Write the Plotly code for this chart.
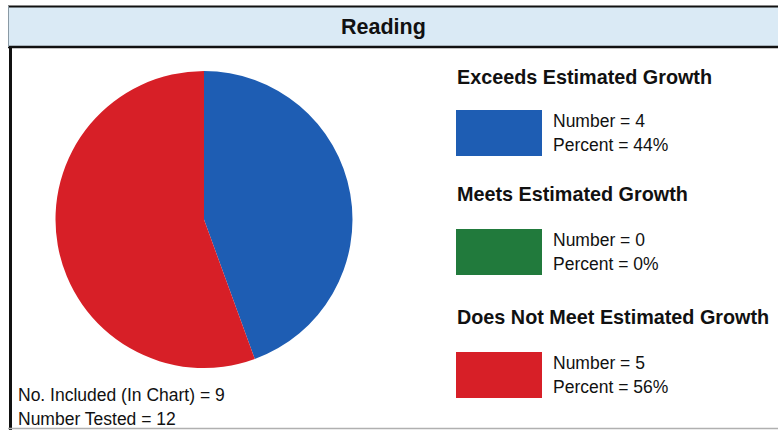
import plotly.graph_objects as go

W, H = 778, 430

# ---- data ----
title_text = "Reading"
categories = ["Exceeds Estimated Growth", "Meets Estimated Growth", "Does Not Meet Estimated Growth"]
counts = [4, 0, 5]
percents = [44, 0, 56]
colors = ["#1e5db3", "#217a3c", "#d71f27"]
n_included = 9
n_tested = 12

FONT = "Liberation Sans, Arial, sans-serif"


def px(x):
    return x / W


def py(y):
    return 1 - y / H


fig = go.Figure()

# pie
cx, cy, r = 204, 219.5, 148.5
fig.add_trace(go.Pie(
    labels=categories,
    values=counts,
    marker=dict(colors=colors, line=dict(width=0)),
    sort=False,
    direction="clockwise",
    rotation=0,
    textinfo="none",
    hoverinfo="label+value+percent",
    showlegend=False,
    domain=dict(x=[px(cx - r), px(cx + r)], y=[py(cy + r), py(cy - r)]),
))

shapes = []
annotations = []

# header band
shapes.append(dict(type="rect", xref="paper", yref="paper",
                   x0=px(8), x1=px(790), y0=py(47), y1=py(6.5),
                   fillcolor="#daeaf5", line=dict(width=0), layer="below"))
shapes.append(dict(type="line", xref="paper", yref="paper",
                   x0=px(8), x1=px(790), y0=py(6.5), y1=py(6.5),
                   line=dict(color="#111111", width=2)))
shapes.append(dict(type="line", xref="paper", yref="paper",
                   x0=px(8), x1=px(790), y0=py(47), y1=py(47),
                   line=dict(color="#111111", width=2.5)))
shapes.append(dict(type="line", xref="paper", yref="paper",
                   x0=px(8.5), x1=px(8.5), y0=py(6), y1=py(47),
                   line=dict(color="#8a9aa5", width=1)))
# left body border
shapes.append(dict(type="line", xref="paper", yref="paper",
                   x0=px(10.5), x1=px(10.5), y0=py(47), y1=py(430),
                   line=dict(color="#111111", width=3)))
# bottom grey line
shapes.append(dict(type="line", xref="paper", yref="paper",
                   x0=px(8), x1=px(790), y0=py(428.5), y1=py(428.5),
                   line=dict(color="#b0b0b0", width=1.5)))

annotations.append(dict(text="<b>%s</b>" % title_text, x=px(383), y=py(27),
                        xref="paper", yref="paper", showarrow=False,
                        xanchor="center", yanchor="middle",
                        font=dict(family=FONT, size=21.5, color="#111111")))

# legend blocks
head_y = [77, 194, 317]
rect_top = [110, 229, 352]
for i, cat in enumerate(categories):
    annotations.append(dict(text="<b>%s</b>" % cat, x=px(455), y=py(head_y[i]),
                            xref="paper", yref="paper", showarrow=False,
                            xanchor="left", yanchor="middle",
                            font=dict(family=FONT, size=19.8, color="#111111")))
    t = rect_top[i]
    shapes.append(dict(type="rect", xref="paper", yref="paper",
                       x0=px(456), x1=px(542), y0=py(t + 46), y1=py(t),
                       fillcolor=colors[i], line=dict(width=0)))
    annotations.append(dict(text="Number = %d" % counts[i], x=px(551), y=py(t + 11),
                            xref="paper", yref="paper", showarrow=False,
                            xanchor="left", yanchor="middle",
                            font=dict(family=FONT, size=17.5, color="#111111")))
    annotations.append(dict(text="Percent = %d%%" % percents[i], x=px(551), y=py(t + 35),
                            xref="paper", yref="paper", showarrow=False,
                            xanchor="left", yanchor="middle",
                            font=dict(family=FONT, size=17.5, color="#111111")))

# footer text
annotations.append(dict(text="No. Included (In Chart) = %d" % n_included, x=px(16), y=py(395),
                        xref="paper", yref="paper", showarrow=False,
                        xanchor="left", yanchor="middle",
                        font=dict(family=FONT, size=17.5, color="#111111")))
annotations.append(dict(text="Number Tested = %d" % n_tested, x=px(16), y=py(419),
                        xref="paper", yref="paper", showarrow=False,
                        xanchor="left", yanchor="middle",
                        font=dict(family=FONT, size=17.5, color="#111111")))

fig.update_layout(
    width=W, height=H,
    margin=dict(l=0, r=0, t=0, b=0),
    paper_bgcolor="white",
    plot_bgcolor="white",
    shapes=shapes,
    annotations=annotations,
    showlegend=False,
)

fig.write_html("out.html")
